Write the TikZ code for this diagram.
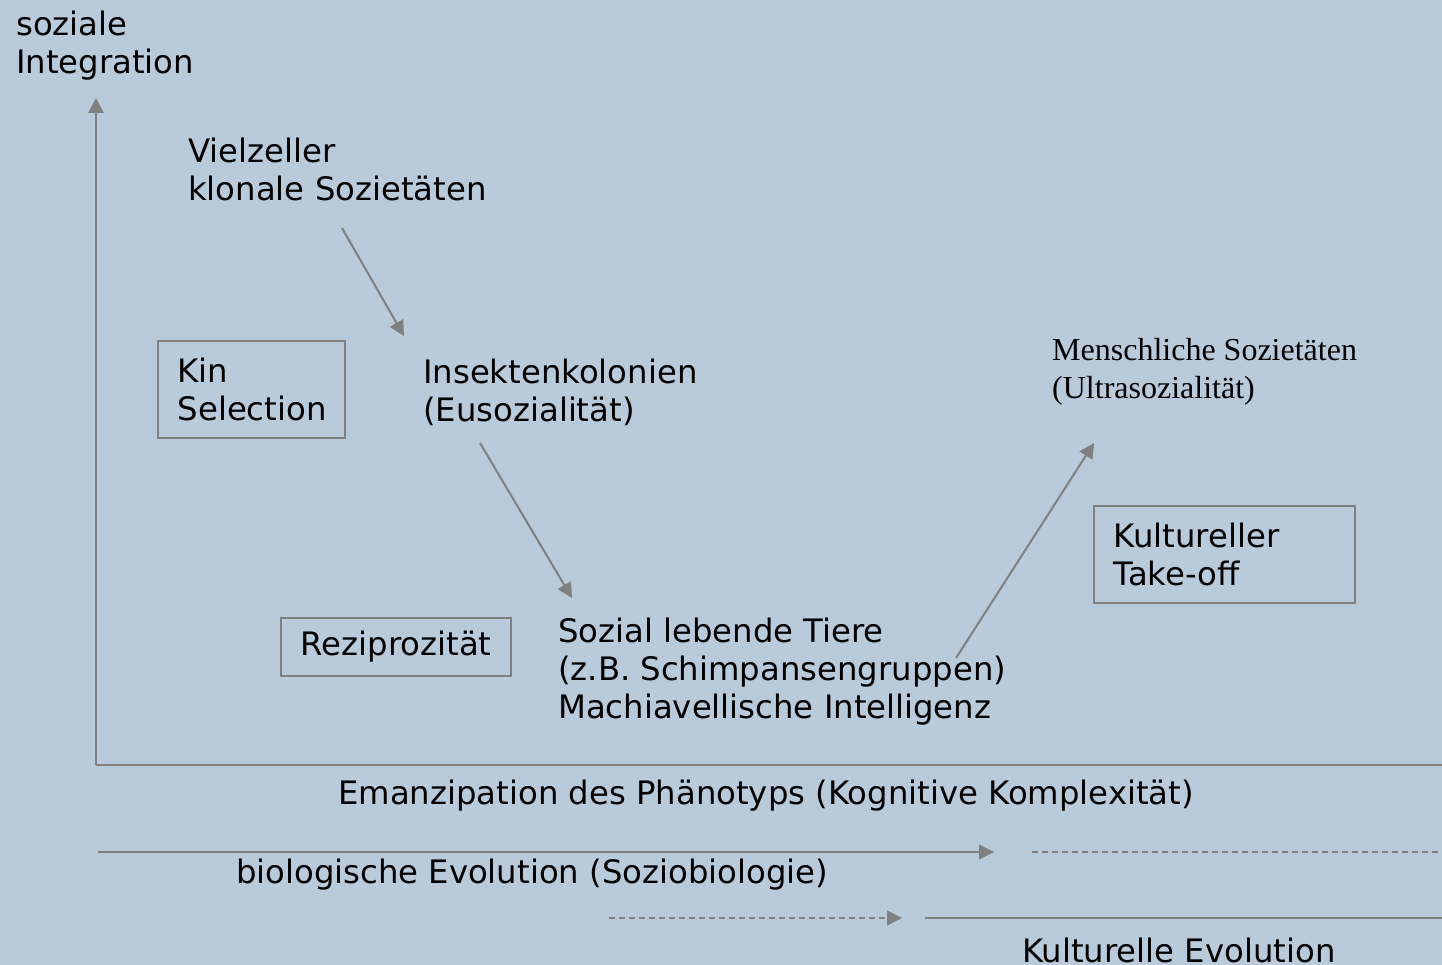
\documentclass[tikz,border=0pt]{standalone}
\usepackage{fontspec}
\setmainfont{DejaVu Sans}
\newfontfamily\serifface{Liberation Serif}
\usetikzlibrary{arrows.meta}
\definecolor{bgcol}{HTML}{B9CADB}
\definecolor{linecol}{HTML}{808080}
\tikzset{
  lbl/.style={anchor=west, align=left, inner sep=0pt, font=\fontsize{32.3}{38}\selectfont, text=black},
  serlbl/.style={anchor=west, align=left, inner sep=0pt, font=\serifface\fontsize{32}{38}\selectfont, text=black},
  boxed/.style={draw=linecol, line width=1.5pt, anchor=north west, align=left, inner ysep=0pt, inner xsep=20pt, font=\fontsize{32.3}{38}\selectfont},
  conn/.style={draw=linecol, line width=2pt, -{Triangle[length=15pt,width=15pt]}},
  plain/.style={draw=linecol, line width=2pt},
  dashln/.style={draw=linecol, line width=1.5pt, dash pattern=on 6pt off 4pt}
}
\begin{document}
\begin{tikzpicture}[x=1pt,y=-1pt]
\useasboundingbox (0,0) rectangle (1442,965);
\fill[bgcol] (0,0) rectangle (1442,965);

% axes
\coordinate (O) at (96,765);
\coordinate (Ytop) at (96,98);
\coordinate (Xend) at (1442,765);
\draw[conn] (O) -- (Ytop);
\draw[plain] (O) -- (Xend);

\node[lbl] (yl) at (16,46) {soziale\\Integration};

\node[lbl] (viel) at (188,169) {Vielzeller\\klonale Sozietäten};
\node[boxed, minimum width=187pt, minimum height=97pt, text width=147pt] (kin) at (157,340) {\raisebox{-2pt}{\parbox{147pt}{Kin\\Selection}}};
\node[lbl] (insekt) at (423,392) {Insektenkolonien\\(Eusozialität)};
\node[boxed, minimum width=230pt, minimum height=58pt, text width=190pt] (rezi) at (280,617) {\raisebox{-3pt}{Reziprozität}};
\node[lbl] (sozial) at (558,672) {Sozial lebende Tiere\\(z.B. Schimpansengruppen)\\Machiavellische Intelligenz};
\node[serlbl] (mensch) at (1052,372) {Menschliche Sozietäten\\(Ultrasozialität)};
\node[boxed, minimum width=261pt, minimum height=97pt, text width=221pt] (kult) at (1093,505) {\raisebox{-2pt}{\parbox{221pt}{Kultureller\\Take-off}}};

% connectors
\coordinate (a1s) at (342,228);
\coordinate (a1e) at (404,336);
\draw[conn] (a1s) -- (a1e);
\coordinate (a2s) at (480,443);
\coordinate (a2e) at (572,598);
\draw[conn] (a2s) -- (a2e);
\coordinate (a3s) at (956,658);
\coordinate (a3e) at (1094,443);
\draw[conn] (a3s) -- (a3e);

% x-axis label
\node[lbl, anchor=center] (emanz) at (766,796) {Emanzipation des Phänotyps (Kognitive Komplexität)};

% evolution lines
\coordinate (b1s) at (98,852);
\coordinate (b1e) at (994,852);
\draw[conn, line width=1.5pt] (b1s) -- (b1e);
\coordinate (b2s) at (1032,852);
\coordinate (b2e) at (1442,852);
\draw[dashln] (b2s) -- (b2e);
\node[lbl, anchor=center] (bio) at (532,875) {biologische Evolution (Soziobiologie)};

\coordinate (c1s) at (609,918);
\coordinate (c1e) at (902,918);
\draw[dashln, -{Triangle[length=15pt,width=15pt]}] (c1s) -- (c1e);
\coordinate (c2s) at (925,918);
\coordinate (c2e) at (1442,918);
\draw[plain, line width=1.5pt] (c2s) -- (c2e);
\node[lbl] (kultev) at (1022,950) {Kulturelle Evolution};
\end{tikzpicture}
\end{document}
